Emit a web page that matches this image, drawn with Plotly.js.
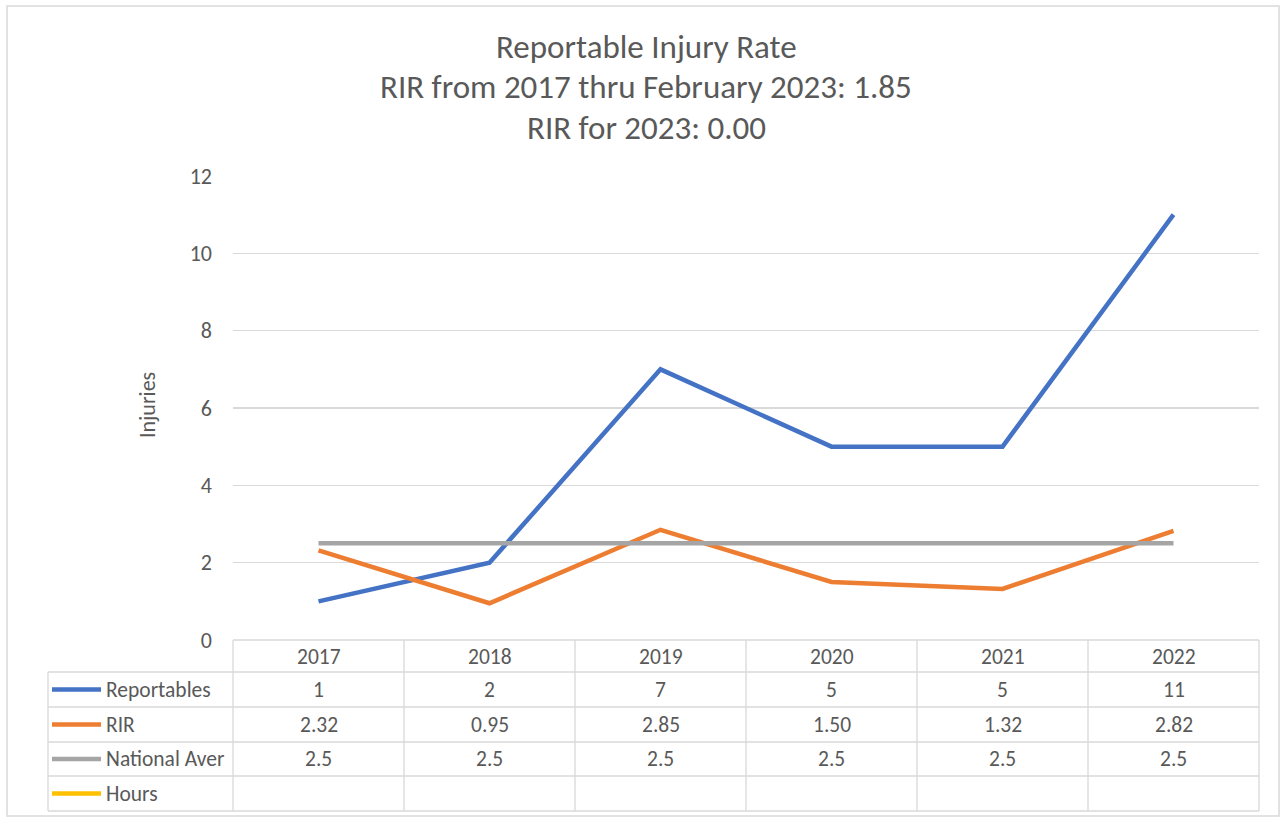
<!DOCTYPE html>
<html><head><meta charset="utf-8">
<script src="https://cdn.plot.ly/plotly-3.0.1.min.js"></script>
<style>html,body{margin:0;padding:0;background:#fff}#chart{width:1285px;height:818px}</style>
</head><body><div id="chart"></div>
<script>
const years = ["2017","2018","2019","2020","2021","2022"];
const reportables = [1, 2, 7, 5, 5, 11];
const rir = [2.32, 0.95, 2.85, 1.50, 1.32, 2.82];
const nationalAver = [2.5, 2.5, 2.5, 2.5, 2.5, 2.5];
const hours = [null, null, null, null, null, null];
const reportablesLabels = ["1","2","7","5","5","11"];
const rirLabels = ["2.32","0.95","2.85","1.50","1.32","2.82"];
const nationalLabels = ["2.5","2.5","2.5","2.5","2.5","2.5"];
const hoursLabels = ["","","","","",""];
const seriesNames = ["Reportables","RIR","National Aver","Hours"];
const seriesColors = ["#4472C4","#ED7D31","#A5A5A5","#FFC000"];
const titleLines = ["Reportable Injury Rate","RIR from 2017 thru February 2023: 1.85","RIR for 2023: 0.00"];
const yTitle = "Injuries";

const W = 1285, H = 818;
const FONT = "Calibri, Carlito, 'Open Sans', sans-serif";
const TXT = "#595959";
const GRID = "#d9d9d9";
const px = v => v / W;
const py = v => 1 - v / H;

const plotL = 233, plotR = 1259, plotT = 176, plotB = 640;
const tableL = 48;
const rowEdges = [640, 672, 707, 742, 776, 811];
const FS = 21.5;

const seriesData = [reportables, rir, nationalAver, hours];
const seriesLabels = [reportablesLabels, rirLabels, nationalLabels, hoursLabels];
const xIdx = years.map((_, i) => i);

const traces = seriesData.map((d, k) => ({
  type: "scatter", mode: "lines", x: xIdx, y: d, name: seriesNames[k],
  line: {color: seriesColors[k], width: 4.5}, hoverinfo: "skip", showlegend: false
}));
const shapes = [];
const annotations = [];

shapes.push({type:"rect", xref:"paper", yref:"paper", x0:px(7), x1:px(1279), y0:py(816), y1:py(6), line:{color:"#d9d9d9", width:1.5}, fillcolor:"rgba(0,0,0,0)", layer:"below"});

const colW = (plotR - plotL) / years.length;
rowEdges.forEach((yy, i) => {
  const x0 = (i === 0) ? plotL : tableL;
  shapes.push({type:"line", xref:"paper", yref:"paper", x0:px(x0), x1:px(plotR), y0:py(yy), y1:py(yy), line:{color:GRID, width:1.3}});
});
shapes.push({type:"line", xref:"paper", yref:"paper", x0:px(tableL), x1:px(tableL), y0:py(rowEdges[1]), y1:py(rowEdges[5]), line:{color:GRID, width:1.3}});
for (let j = 0; j <= years.length; j++) {
  const xx = plotL + j * colW;
  shapes.push({type:"line", xref:"paper", yref:"paper", x0:px(xx), x1:px(xx), y0:py(rowEdges[0]), y1:py(rowEdges[5]), line:{color:GRID, width:1.3}});
}
years.forEach((y, i) => {
  annotations.push({xref:"x", yref:"paper", x:i, y:py((rowEdges[0]+rowEdges[1])/2 + 1), text:y, showarrow:false, font:{family:FONT, size:FS, color:TXT}, xanchor:"center", yanchor:"middle"});
});
seriesNames.forEach((nm, k) => {
  const yc = (rowEdges[k+1] + rowEdges[k+2]) / 2;
  shapes.push({type:"line", xref:"paper", yref:"paper", x0:px(52), x1:px(101), y0:py(yc), y1:py(yc), line:{color:seriesColors[k], width:4.5}});
  annotations.push({xref:"paper", yref:"paper", x:px(104), y:py(yc), text:nm, showarrow:false, font:{family:FONT, size:FS, color:TXT}, xanchor:"left", yanchor:"middle"});
  seriesLabels[k].forEach((lab, i) => {
    if (lab === "") return;
    annotations.push({xref:"x", yref:"paper", x:i, y:py(yc), text:lab, showarrow:false, font:{family:FONT, size:FS, color:TXT}, xanchor:"center", yanchor:"middle"});
  });
});
const titleY = [47, 87, 128];
titleLines.forEach((t, i) => {
  annotations.push({xref:"paper", yref:"paper", x:px(646), y:py(titleY[i]), text:t, showarrow:false, font:{family:FONT, size:33, color:TXT}, xanchor:"center", yanchor:"middle"});
});
annotations.push({xref:"paper", yref:"paper", x:px(147), y:py(405), text:yTitle, textangle:-90, showarrow:false, font:{family:FONT, size:22, color:TXT}, xanchor:"center", yanchor:"middle"});

const layout = {
  width: W, height: H, margin:{l:0,r:0,t:0,b:0}, paper_bgcolor:"#fff", plot_bgcolor:"#fff",
  showlegend:false,
  xaxis:{domain:[px(plotL), px(plotR)], range:[-0.5, years.length-0.5], showgrid:false, zeroline:false, showticklabels:false, showline:false, ticks:"", fixedrange:true},
  yaxis:{domain:[py(plotB), py(plotT)], range:[0,12], dtick:2, tick0:0, showgrid:true, gridcolor:GRID, gridwidth:1.3, zeroline:false, showline:false, ticks:"", ticklabelstandoff:20,
    tickfont:{family:FONT, size:22, color:TXT}, fixedrange:true},
  shapes, annotations
};
Plotly.newPlot("chart", traces, layout, {staticPlot:true, displayModeBar:false});
</script></body></html>
